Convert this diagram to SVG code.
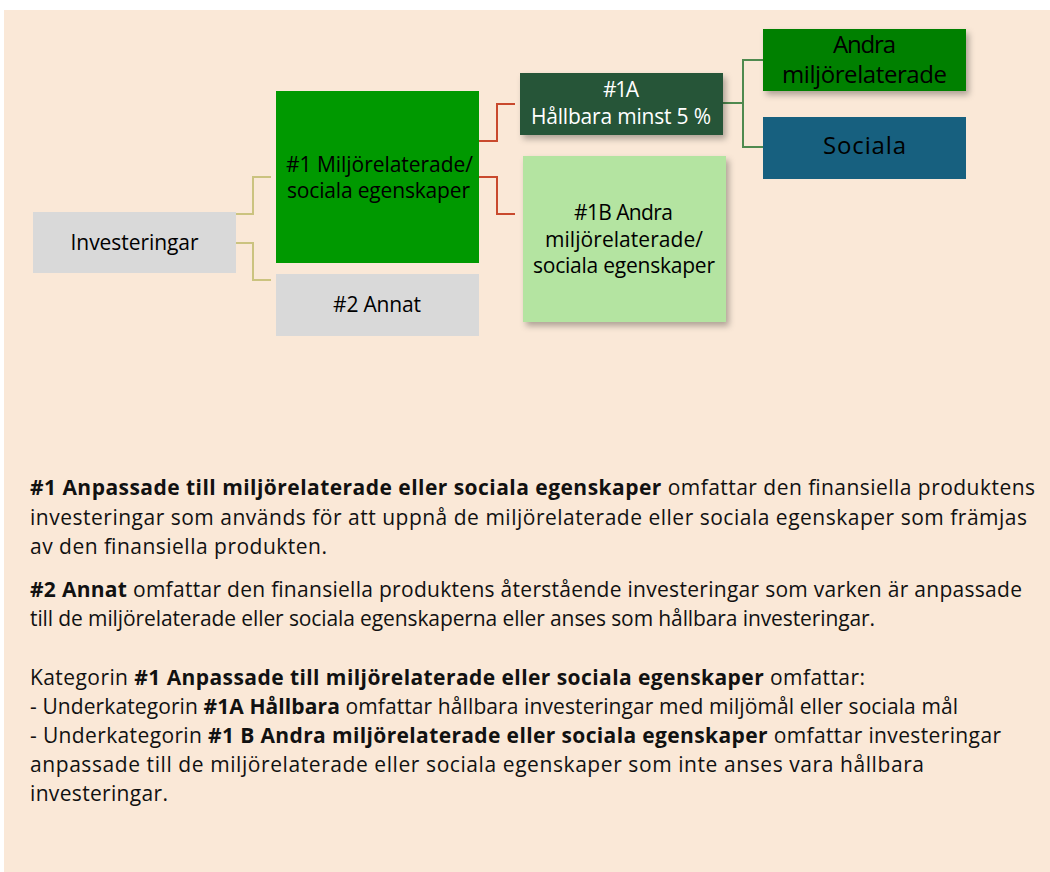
<svg xmlns="http://www.w3.org/2000/svg" width="1050" height="872" viewBox="0 0 1050 872">
<defs>
<filter id="sh" x="-10%" y="-10%" width="125%" height="135%">
<feDropShadow dx="3" dy="4" stdDeviation="3" flood-color="#000" flood-opacity="0.3"/>
</filter>
</defs>
<style>
.n{font-family:"Open Sans","Noto Sans",sans-serif;font-size:21px;text-anchor:middle;fill:#000}
.big{font-size:24px}
.w{fill:#fff}
.b{font-family:"Open Sans","Noto Sans",sans-serif;font-size:21px;fill:#111}
.bd{font-weight:bold}
.c{fill:none;stroke-width:2}
</style>
<rect x="4" y="10" width="1046" height="862" fill="#fae8d7"/>
<g id="connectors">
<polyline class="c" stroke="#cbc37f" points="236,214 253,214 253,177 271,177"/>
<polyline class="c" stroke="#cbc37f" points="236,243 253,243 253,280 271,280"/>
<polyline class="c" stroke="#c9492d" points="479,141 497,141 497,104 515,104"/>
<polyline class="c" stroke="#c9492d" points="479,177 497,177 497,214 515,214"/>
<polyline class="c" stroke="#4f8a4f" points="723,103 743,103 743,60 763,60"/>
<polyline class="c" stroke="#4f8a4f" points="743,103 743,147 763,147"/>
</g>
<g id="investeringar">
<rect x="33" y="212" width="203" height="61" fill="#d9d9d9"/>
<text class="n" x="134.5" y="250" textLength="128">Investeringar</text>
</g>
<g id="n1">
<rect x="276" y="91" width="203" height="172" fill="#009900"/>
<text class="n" x="379.5" y="172" textLength="187">#1 Miljörelaterade/</text>
<text class="n" x="378.5" y="198" textLength="183">sociala egenskaper</text>
</g>
<g id="n2">
<rect x="276" y="274" width="203" height="62" fill="#d9d9d9"/>
<text class="n" x="377" y="312" textLength="88">#2 Annat</text>
</g>
<g id="n1a">
<rect x="520" y="73" width="203" height="62" fill="#265438" filter="url(#sh)"/>
<text class="n w" x="621" y="97" textLength="36">#1A</text>
<text class="n w" x="621" y="124" textLength="180">Hållbara minst 5 %</text>
</g>
<g id="n1b">
<rect x="523" y="156" width="203" height="166" fill="#b4e4a1" filter="url(#sh)"/>
<text class="n" x="623.5" y="220" textLength="99">#1B Andra</text>
<text class="n" x="624" y="247" textLength="158">miljörelaterade/</text>
<text class="n" x="624" y="273" textLength="182">sociala egenskaper</text>
</g>
<g id="andra">
<rect x="763" y="29" width="203" height="62" fill="#008000" filter="url(#sh)"/>
<text class="n big" x="864.5" y="53" textLength="63">Andra</text>
<text class="n big" x="864.5" y="83" textLength="165">miljörelaterade</text>
</g>
<g id="sociala">
<rect x="763" y="117" width="203" height="62" fill="#17607f"/>
<text class="n big" x="864.5" y="154" textLength="83">Sociala</text>
</g>
<g id="text">
<text class="b" x="30" y="495" textLength="1005"><tspan class="bd">#1 Anpassade till miljörelaterade eller sociala egenskaper</tspan> omfattar den finansiella produktens</text>
<text class="b" x="30" y="524.5" textLength="997">investeringar som används för att uppnå de miljörelaterade eller sociala egenskaper som främjas</text>
<text class="b" x="30" y="554" textLength="297">av den finansiella produkten.</text>
<text class="b" x="30" y="597" textLength="992"><tspan class="bd">#2 Annat</tspan> omfattar den finansiella produktens återstående investeringar som varken är anpassade</text>
<text class="b" x="30" y="626" textLength="845">till de miljörelaterade eller sociala egenskaperna eller anses som hållbara investeringar.</text>
<text class="b" x="30" y="685" textLength="835">Kategorin <tspan class="bd">#1 Anpassade till miljörelaterade eller sociala egenskaper</tspan> omfattar:</text>
<text class="b" x="30" y="713.5" textLength="928">- Underkategorin <tspan class="bd">#1A Hållbara</tspan> omfattar hållbara investeringar med miljömål eller sociala mål</text>
<text class="b" x="30" y="743" textLength="971">- Underkategorin <tspan class="bd">#1 B Andra miljörelaterade eller sociala egenskaper</tspan> omfattar investeringar</text>
<text class="b" x="30" y="772" textLength="894">anpassade till de miljörelaterade eller sociala egenskaper som inte anses vara hållbara</text>
<text class="b" x="30" y="801" textLength="138">investeringar.</text>
</g>
</svg>
